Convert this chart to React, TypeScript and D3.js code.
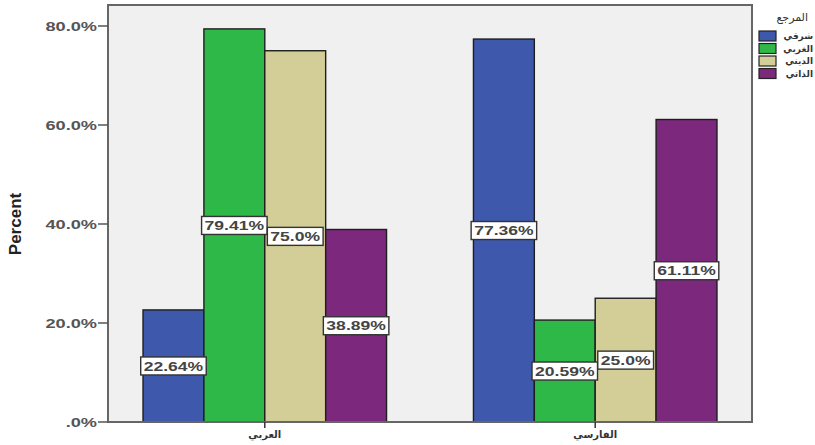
import React, { useEffect, useRef } from "react";
import * as d3 from "d3";

const categories = ["العربي", "الفارسي"];
const seriesNames = ["شرقي", "الغربي", "الديني", "الذاتي"];
const seriesColors = ["#3E58AC", "#2EB848", "#D3CE97", "#7C287D"];
// values[seriesIndex][categoryIndex]
const values = [
  [22.64, 77.36],
  [79.41, 20.59],
  [75.0, 25.0],
  [38.89, 61.11],
];
const valueLabels = [
  ["22.64%", "77.36%"],
  ["79.41%", "20.59%"],
  ["75.0%", "25.0%"],
  ["38.89%", "61.11%"],
];
const yTicks = [0, 20, 40, 60, 80];
const yTickLabels = [".0%", "20.0%", "40.0%", "60.0%", "80.0%"];
const legendTitle = "المرجع";
const yAxisTitle = "Percent";

export default function App() {
  const ref = useRef<SVGSVGElement>(null);

  useEffect(() => {
    const svg = d3.select(ref.current);
    svg.selectAll("*").remove();

    const left = 108, right = 752, top = 5, bottom = 422;
    const y = d3.scaleLinear().domain([0, 84.24]).range([bottom, top]);
    const x0 = d3.scaleBand<string>().domain(categories).range([left, right]).paddingInner(0.263).paddingOuter(0.106);
    const x1 = d3.scaleBand<number>().domain(d3.range(seriesNames.length)).range([0, x0.bandwidth()]).padding(0);

    svg.append("rect").attr("x", 0).attr("y", 0).attr("width", 815).attr("height", 445).attr("fill", "#ffffff");
    svg.append("rect").attr("x", left).attr("y", top).attr("width", right - left).attr("height", bottom - top)
      .attr("fill", "#F0F0F0");

    // bars
    const bars = svg.append("g");
    seriesNames.forEach((_, si) => {
      categories.forEach((c, ci) => {
        const bx = x0(c)! + x1(si)!;
        bars.append("rect")
          .attr("x", bx).attr("y", y(values[si][ci]))
          .attr("width", x1.bandwidth()).attr("height", y(0) - y(values[si][ci]))
          .attr("fill", seriesColors[si]).attr("stroke", "#1e1e1e").attr("stroke-width", 1.4);
      });
    });

    // frame
    svg.append("rect").attr("x", left).attr("y", top).attr("width", right - left).attr("height", bottom - top)
      .attr("fill", "none").attr("stroke", "#666").attr("stroke-width", 2);

    // y axis ticks
    const yg = svg.append("g");
    yTicks.forEach((t, i) => {
      yg.append("line").attr("x1", left - 10).attr("x2", left).attr("y1", y(t)).attr("y2", y(t))
        .attr("stroke", "#555").attr("stroke-width", 1.5);
      yg.append("text").attr("transform", `translate(${left - 11},${y(t)}) scale(1.4,1)`).attr("dy", "0.35em")
        .attr("text-anchor", "end").attr("font-family", "Liberation Sans, Arial, sans-serif")
        .attr("font-size", 13).attr("fill", "#555").attr("font-weight", "bold")
        .text(yTickLabels[i]);
    });
    svg.append("text").attr("transform", `translate(21,224) rotate(-90)`)
      .attr("text-anchor", "middle").attr("font-family", "Liberation Sans Narrow, Liberation Sans, Arial, sans-serif")
      .attr("font-size", 17).attr("font-weight", "bold").attr("fill", "#222").text(yAxisTitle);

    // x axis ticks
    categories.forEach((c) => {
      const cx = x0(c)! + x0.bandwidth() / 2;
      svg.append("line").attr("x1", cx).attr("x2", cx).attr("y1", bottom).attr("y2", bottom + 6)
        .attr("stroke", "#333").attr("stroke-width", 1.5);
      svg.append("text").attr("x", cx).attr("y", 438).attr("text-anchor", "middle")
        .attr("font-family", "DejaVu Sans, sans-serif").attr("font-size", 10).attr("font-weight", "bold")
        .attr("fill", "#333").text(c);
    });

    // value labels
    const lg = svg.append("g");
    seriesNames.forEach((_, si) => {
      categories.forEach((c, ci) => {
        const cx = x0(c)! + x1(si)! + x1.bandwidth() / 2;
        const cy = (y(values[si][ci]) + y(0)) / 2;
        const g = lg.append("g");
        const rect = g.append("rect");
        const txt = g.append("text").attr("transform", `translate(${cx},${cy}) scale(1.35,1)`)
          .attr("dy", "0.36em").attr("text-anchor", "middle")
          .attr("font-family", "Liberation Sans, Arial, sans-serif").attr("font-size", 13).attr("font-weight", "bold")
          .attr("fill", "#444").text(valueLabels[si][ci]);
        const w = (txt.node() as SVGTextElement).getComputedTextLength() * 1.35 + 6;
        rect.attr("x", cx - w / 2).attr("y", cy - 9).attr("width", w).attr("height", 18)
          .attr("fill", "#fff").attr("stroke", "#333").attr("stroke-width", 1.4);
      });
    });

    // legend
    const leg = svg.append("g");
    leg.append("text").attr("x", 808).attr("y", 21).attr("text-anchor", "end")
      .attr("font-family", "DejaVu Sans, sans-serif").attr("font-size", 11).attr("letter-spacing", 1)
      .attr("fill", "#333").text(legendTitle);
    seriesNames.forEach((s, si) => {
      const ly = 36 + si * 12.5;
      leg.append("rect").attr("x", 759).attr("y", ly - 5).attr("width", 17).attr("height", 10)
        .attr("fill", seriesColors[si]).attr("stroke", "#222").attr("stroke-width", 1.2);
      leg.append("text").attr("x", 813).attr("y", ly).attr("dy", "0.35em").attr("text-anchor", "end")
        .attr("font-family", "DejaVu Sans, sans-serif").attr("font-size", 9).attr("font-weight", "bold")
        .attr("fill", "#333").text(s);
    });
  }, []);

  return (
    <svg ref={ref} width={815} height={445} style={{ position: "absolute", left: 0, top: 0 }} />
  );
}
